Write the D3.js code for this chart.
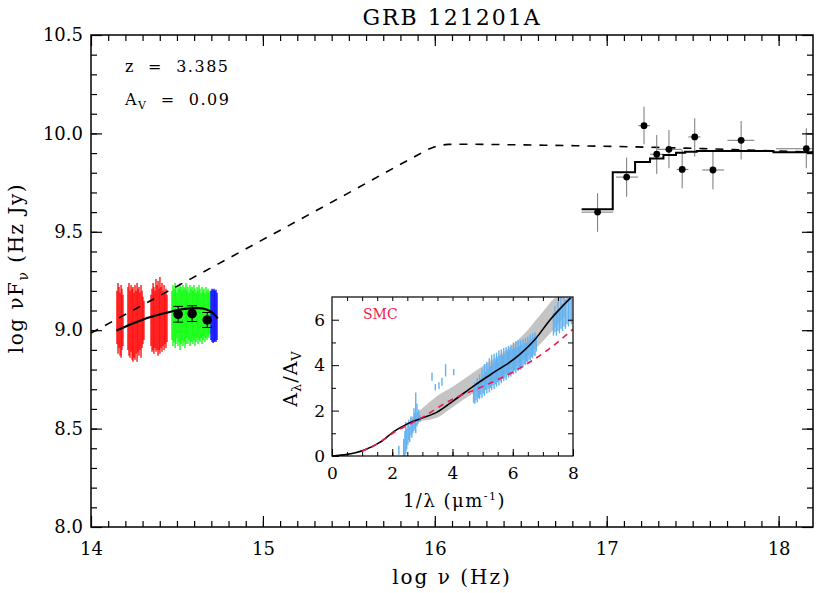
<!DOCTYPE html>
<html lang="en">

<head>
    <meta charset="UTF-8">
    <meta name="viewport" content="width=device-width, initial-scale=1.0">
    <script src="https://d3js.org/d3.v7.min.js"></script>
    <style>
        body { margin: 0; background: #fff; }
        text { font-family: "DejaVu Serif", serif; fill: #000; }
    </style>
</head>

<body>
    <div class="sed"></div>
    <script>
        // ---------- data ----------
        // optical spectrum columns: [log nu, low, high]
        var specRed = [
            [14.151, 8.93, 9.20], [14.157, 8.88, 9.24], [14.163, 8.91, 9.22], [14.169, 8.87, 9.19],
            [14.175, 8.86, 9.23], [14.180, 8.90, 9.21], [14.186, 8.92, 9.18],
            [14.215, 8.90, 9.22], [14.221, 8.87, 9.24], [14.227, 8.86, 9.20], [14.233, 8.89, 9.23],
            [14.239, 8.85, 9.21], [14.244, 8.84, 9.22], [14.250, 8.86, 9.19], [14.256, 8.85, 9.23],
            [14.262, 8.88, 9.20], [14.268, 8.84, 9.24], [14.273, 8.89, 9.21], [14.279, 8.87, 9.22],
            [14.285, 8.90, 9.19], [14.291, 8.86, 9.23], [14.297, 8.91, 9.20], [14.302, 8.93, 9.17],
            [14.308, 8.95, 9.15],
            [14.349, 8.92, 9.18], [14.355, 8.89, 9.21], [14.361, 8.90, 9.24], [14.366, 8.88, 9.22],
            [14.372, 8.91, 9.20], [14.378, 8.89, 9.26], [14.384, 8.90, 9.23], [14.390, 8.87, 9.25],
            [14.396, 8.90, 9.21], [14.401, 8.88, 9.27], [14.407, 8.91, 9.22], [14.413, 8.89, 9.24],
            [14.419, 8.92, 9.20], [14.425, 8.90, 9.23], [14.430, 8.93, 9.19], [14.436, 8.91, 9.21],
            [14.442, 8.94, 9.18]
        ]
        var specGreen = [
            [14.471, 8.95, 9.20], [14.477, 8.92, 9.23], [14.483, 8.94, 9.21], [14.489, 8.91, 9.24],
            [14.494, 8.93, 9.22], [14.500, 8.96, 9.19], [14.506, 8.92, 9.23], [14.512, 8.94, 9.21],
            [14.518, 8.90, 9.24], [14.524, 8.93, 9.22], [14.529, 8.95, 9.20], [14.535, 8.92, 9.23],
            [14.541, 8.94, 9.21], [14.547, 8.91, 9.22], [14.553, 8.93, 9.24], [14.558, 8.96, 9.20],
            [14.564, 8.93, 9.22], [14.570, 8.95, 9.19], [14.576, 8.92, 9.23], [14.582, 8.94, 9.21],
            [14.588, 8.96, 9.22], [14.593, 8.93, 9.20], [14.599, 8.95, 9.23], [14.605, 8.92, 9.21],
            [14.611, 8.94, 9.19], [14.617, 8.96, 9.22], [14.622, 8.93, 9.20], [14.628, 8.95, 9.23],
            [14.634, 8.94, 9.21], [14.640, 8.96, 9.19], [14.646, 8.93, 9.22], [14.652, 8.95, 9.20],
            [14.657, 8.97, 9.21], [14.663, 8.94, 9.19], [14.669, 8.96, 9.22], [14.675, 8.95, 9.20],
            [14.681, 8.97, 9.21], [14.686, 8.96, 9.19], [14.692, 8.98, 9.20]
        ]
        var specBlue = [
            [14.698, 8.95, 9.20], [14.704, 8.94, 9.21], [14.710, 8.935, 9.205], [14.716, 8.94, 9.21],
            [14.721, 8.945, 9.20], [14.727, 8.94, 9.205], [14.733, 8.95, 9.19]
        ]

        // optical photometry
        var optNu = [14.507, 14.588, 14.676]
        var optFlux = [9.081, 9.084, 9.052]
        var optErr = [0.04, 0.04, 0.038]

        // X-ray points
        var xrNu = [16.947, 17.116, 17.217, 17.291, 17.362, 17.439, 17.512, 17.618, 17.782, 18.161]
        var xrNuLo = [16.854, 17.054, 17.183, 17.252, 17.296, 17.407, 17.475, 17.556, 17.702, 17.985]
        var xrNuHi = [17.038, 17.183, 17.252, 17.329, 17.437, 17.475, 17.546, 17.683, 17.859, 18.25]
        var xrFlux = [9.60, 9.778, 10.039, 9.894, 9.919, 9.817, 9.982, 9.814, 9.965, 9.922]
        var xrFluxLo = [9.50, 9.678, 9.945, 9.794, 9.823, 9.721, 9.882, 9.716, 9.868, 9.823]
        var xrFluxHi = [9.696, 9.877, 10.136, 9.992, 10.017, 9.916, 10.077, 9.916, 10.063, 10.026]

        // folded X-ray model (histogram)
        var stepNu = [16.854, 17.035, 17.165, 17.252, 17.330, 17.403, 17.456, 17.524, 17.970, 18.2]
        var stepFlux = [9.614, 9.802, 9.855, 9.873, 9.890, 9.902, 9.907, 9.911, 9.904, 9.904]

        // unabsorbed broken power law (dashed)
        var dashNu = [14.0, 14.494, 14.989, 15.483, 15.879, 15.978, 16.027, 16.077, 16.176, 16.472, 16.967, 17.461, 17.956, 18.2]
        var dashFlux = [8.985, 9.22, 9.455, 9.69, 9.88, 9.925, 9.938, 9.944, 9.945, 9.942, 9.935, 9.925, 9.912, 9.905]

        // absorbed model in the optical (solid)
        var modelNu = [14.148, 14.247, 14.346, 14.445, 14.544, 14.623, 14.672, 14.712, 14.737]
        var modelFlux = [8.998, 9.035, 9.067, 9.09, 9.108, 9.112, 9.105, 9.085, 9.06]

        var xTicks = [14, 15, 16, 17, 18]
        var yTicks = [8.0, 8.5, 9.0, 9.5, 10.0, 10.5]

        // inset: extinction curve
        var extX = [0.0, 0.5, 1.05, 1.6, 2.1, 2.44, 2.93, 3.49, 4.04, 4.71, 5.37, 6.04, 6.7, 7.25, 7.92]
        var extY = [0.0, 0.07, 0.25, 0.61, 1.12, 1.37, 1.64, 1.93, 2.44, 3.09, 3.68, 4.26, 5.07, 6.01, 6.96]
        var smcX = [1.0, 1.27, 1.6, 2.1, 2.6, 3.0, 3.6, 4.0, 4.93, 6.04, 7.14, 8.0]
        var smcY = [0.21, 0.37, 0.61, 1.08, 1.42, 1.7, 2.2, 2.5, 3.02, 3.72, 4.65, 5.58]
        var bandX = [2.6, 3.0, 3.5, 4.0, 4.5, 5.0, 5.5, 6.0, 6.5, 7.0, 7.5, 7.75]
        var bandLo = [1.45, 1.55, 1.7, 2.15, 2.6, 3.0, 3.4, 3.85, 4.4, 5.05, 5.8, 6.2]
        var bandHi = [1.65, 2.1, 2.65, 3.05, 3.5, 3.95, 4.4, 4.9, 5.55, 6.35, 7.0, 7.0]
        // inset spectrum columns: [1/lambda, low, high]
        var extData = [
            [2.22, 0.05, 0.45], [2.38, 0.0, 0.75], [2.42, 0.0, 1.1], [2.45, 0.1, 1.5], [2.48, 0.3, 1.2],
            [2.52, 0.5, 1.45], [2.55, 0.7, 1.6], [2.58, 0.6, 1.3], [2.62, 0.9, 1.75], [2.65, 0.8, 1.5],
            [2.68, 1.0, 1.65], [2.72, 1.1, 2.1], [2.75, 1.2, 1.9], [2.78, 1.0, 2.8], [2.82, 1.3, 2.3],
            [2.85, 1.4, 1.95], [2.88, 1.5, 2.05], [2.92, 1.5, 1.8],
            [3.32, 3.31, 3.68], [3.43, 2.88, 3.17], [3.55, 2.95, 3.25], [3.65, 3.09, 3.45],
            [3.77, 3.5, 4.04], [4.04, 3.55, 3.83],
            [4.70, 2.35, 3.0], [4.74, 2.3, 3.25], [4.78, 2.45, 3.1], [4.82, 2.35, 3.45], [4.86, 2.55, 3.2],
            [4.90, 2.5, 3.6], [4.94, 2.7, 3.4], [4.98, 2.55, 3.85], [5.02, 2.75, 3.55], [5.06, 2.65, 4.05],
            [5.10, 2.9, 3.7], [5.14, 2.75, 4.15], [5.18, 2.95, 3.85], [5.22, 2.8, 4.3], [5.26, 3.0, 3.95],
            [5.30, 2.9, 4.45], [5.34, 3.1, 4.1], [5.38, 2.95, 4.5], [5.42, 3.15, 4.2], [5.46, 3.05, 4.55],
            [5.50, 3.25, 4.3], [5.54, 3.1, 4.65], [5.58, 3.3, 4.4], [5.62, 3.2, 4.7], [5.66, 3.4, 4.45],
            [5.70, 3.3, 4.75], [5.74, 3.45, 4.5], [5.78, 3.35, 4.8], [5.82, 3.55, 4.6], [5.86, 3.45, 4.85],
            [5.90, 3.6, 4.65], [5.94, 3.5, 4.9], [5.98, 3.7, 4.7], [6.02, 3.6, 5.0], [6.06, 3.75, 4.75],
            [6.10, 3.65, 5.05], [6.14, 3.8, 4.8], [6.18, 3.75, 5.1], [6.22, 3.9, 4.85], [6.26, 3.8, 5.1],
            [6.30, 3.95, 4.9], [6.34, 3.9, 5.15], [6.38, 4.05, 4.95], [6.42, 4.0, 5.2], [6.46, 4.15, 5.0],
            [6.50, 4.1, 5.25], [6.54, 4.25, 5.1], [6.58, 4.2, 5.35], [6.62, 4.35, 5.15], [6.66, 4.3, 5.4],
            [6.70, 4.45, 5.25], [6.74, 4.4, 5.45], [6.78, 4.6, 5.3],
            [7.35, 5.3, 6.3], [7.40, 5.45, 6.6], [7.45, 5.3, 6.4], [7.50, 5.5, 6.8], [7.55, 5.4, 6.5],
            [7.60, 5.6, 7.0], [7.65, 5.5, 6.7], [7.70, 5.7, 7.0], [7.75, 5.6, 6.9], [7.80, 5.8, 7.0],
            [7.85, 5.7, 6.95], [7.90, 5.9, 7.0], [7.95, 5.8, 7.0]
        ]
        var insetXTicks = [0, 2, 4, 6, 8]
        var insetYTicks = [0, 2, 4, 6]

        // ---------- layout ----------
        let W = 830, H = 593
        let margin = { top: 35, right: 17, bottom: 66, left: 91 }
        let width = W - margin.left - margin.right
        let height = H - margin.top - margin.bottom

        var root = d3.select(".sed").append("svg")
            .attr("width", W)
            .attr("height", H)
        var svg = root.append("g")
            .attr("transform", "translate(" + margin.left + "," + margin.top + ")")

        root.append("defs").append("clipPath").attr("id", "clipMain")
            .append("rect").attr("width", width).attr("height", height)

        var x = d3.scaleLinear().domain([14, 18.2]).range([0, width])
        var y = d3.scaleLinear().domain([8, 10.5]).range([height, 0])

        var plot = svg.append("g").attr("clip-path", "url(#clipMain)")

        // optical spectrum
        function drawSpec(arr, col) {
            plot.append("g").selectAll("line")
                .data(arr)
                .enter().append("line")
                .attr("x1", d => x(d[0])).attr("x2", d => x(d[0]))
                .attr("y1", d => y(d[1])).attr("y2", d => y(d[2]))
                .attr("stroke", col)
                .attr("stroke-width", 1.3)
        }
        drawSpec(specRed, "#ff0000")
        drawSpec(specGreen, "#00ff00")
        drawSpec(specBlue, "#0000ff")

        // dashed intrinsic model
        var dashLine = d3.line()
            .x((d, i) => x(dashNu[i]))
            .y(d => y(d))
            .curve(d3.curveMonotoneX)
        plot.append("path")
            .attr("d", dashLine(dashFlux))
            .attr("fill", "none")
            .attr("stroke", "#000")
            .attr("stroke-width", 1.6)
            .attr("stroke-dasharray", "8,8")

        // absorbed model, optical
        var modelLine = d3.line()
            .x((d, i) => x(modelNu[i]))
            .y(d => y(d))
            .curve(d3.curveMonotoneX)
        plot.append("path")
            .attr("d", modelLine(modelFlux))
            .attr("fill", "none")
            .attr("stroke", "#000")
            .attr("stroke-width", 2.2)

        // optical photometry with error bars
        var opt = plot.append("g")
        optNu.forEach(function (nu, i) {
            var cx = x(nu)
            opt.append("line")
                .attr("x1", cx).attr("x2", cx)
                .attr("y1", y(optFlux[i] - optErr[i])).attr("y2", y(optFlux[i] + optErr[i]))
                .attr("stroke", "#000").attr("stroke-width", 1)
            ;[optFlux[i] - optErr[i], optFlux[i] + optErr[i]].forEach(function (v) {
                opt.append("line")
                    .attr("x1", cx - 5).attr("x2", cx + 5)
                    .attr("y1", y(v)).attr("y2", y(v))
                    .attr("stroke", "#000").attr("stroke-width", 1)
            })
            opt.append("circle")
                .attr("cx", cx).attr("cy", y(optFlux[i]))
                .attr("r", 4.8).attr("fill", "#000")
        })

        // X-ray error bars
        var xr = plot.append("g")
        xrNu.forEach(function (nu, i) {
            xr.append("line")
                .attr("x1", x(xrNuLo[i])).attr("x2", x(xrNuHi[i]))
                .attr("y1", y(xrFlux[i])).attr("y2", y(xrFlux[i]))
                .attr("stroke", "#777").attr("stroke-width", 1)
            xr.append("line")
                .attr("x1", x(nu)).attr("x2", x(nu))
                .attr("y1", y(xrFluxLo[i])).attr("y2", y(xrFluxHi[i]))
                .attr("stroke", "#777").attr("stroke-width", 1)
        })

        // X-ray folded model histogram
        var stepLine = d3.line()
            .x((d, i) => x(stepNu[i]))
            .y(d => y(d))
            .curve(d3.curveStepAfter)
        plot.append("path")
            .attr("d", stepLine(stepFlux))
            .attr("fill", "none")
            .attr("stroke", "#000")
            .attr("stroke-width", 2)

        // X-ray points on top
        plot.append("g").selectAll("circle")
            .data(xrNu)
            .enter().append("circle")
            .attr("cx", d => x(d))
            .attr("cy", (d, i) => y(xrFlux[i]))
            .attr("r", 3.4)
            .attr("fill", "#000")

        // ---------- axes (IDL style, ticks inside on all sides) ----------
        function styleAxis(g) {
            g.select(".domain").remove()
            g.selectAll(".tick line").attr("stroke", "#000").attr("stroke-width", 1.2)
            g.selectAll("text").attr("font-family", "DejaVu Serif").attr("font-size", 18).attr("fill", "#000")
        }
        var fmt = d3.format(".1f")
        var xMinor = d3.range(141, 182).map(d => d / 10)
        var yMinor = d3.range(81, 105).map(d => d / 10)
        svg.append("g").attr("transform", "translate(0," + height + ")")
            .call(d3.axisBottom(x).tickValues(xTicks).tickSize(-11).tickPadding(15).tickFormat(d3.format("d")))
            .call(styleAxis)
        svg.append("g").attr("transform", "translate(0," + height + ")")
            .call(d3.axisBottom(x).tickValues(xMinor).tickSize(-6).tickFormat(""))
            .call(styleAxis)
        svg.append("g")
            .call(d3.axisTop(x).tickValues(xTicks).tickSize(-11).tickFormat(""))
            .call(styleAxis)
        svg.append("g")
            .call(d3.axisTop(x).tickValues(xMinor).tickSize(-6).tickFormat(""))
            .call(styleAxis)
        svg.append("g")
            .call(d3.axisLeft(y).tickValues(yTicks).tickSize(-11).tickPadding(8).tickFormat(fmt))
            .call(styleAxis)
        svg.append("g")
            .call(d3.axisLeft(y).tickValues(yMinor).tickSize(-6).tickFormat(""))
            .call(styleAxis)
        svg.append("g").attr("transform", "translate(" + width + ",0)")
            .call(d3.axisRight(y).tickValues(yTicks).tickSize(-11).tickFormat(""))
            .call(styleAxis)
        svg.append("g").attr("transform", "translate(" + width + ",0)")
            .call(d3.axisRight(y).tickValues(yMinor).tickSize(-6).tickFormat(""))
            .call(styleAxis)

        svg.append("rect")
            .attr("width", width).attr("height", height)
            .attr("fill", "none").attr("stroke", "#000").attr("stroke-width", 1.5)

        // titles and labels
        root.append("text")
            .attr("x", margin.left + width / 2).attr("y", 25)
            .attr("text-anchor", "middle")
            .attr("font-size", 22).attr("letter-spacing", 2)
            .text("GRB 121201A")

        root.append("text")
            .attr("x", margin.left + width / 2).attr("y", 584)
            .attr("text-anchor", "middle")
            .attr("font-size", 20).attr("letter-spacing", 2)
            .text("log \u03BD (Hz)")

        var yl = root.append("text")
            .attr("transform", "translate(23,268) rotate(-90)")
            .attr("text-anchor", "middle")
            .attr("font-size", 20).attr("letter-spacing", 1.5)
        yl.append("tspan").text("log \u03BDF")
        yl.append("tspan").attr("font-size", 14).attr("dy", 5).text("\u03BD")
        yl.append("tspan").attr("dy", -5).text(" (Hz Jy)")

        svg.append("text")
            .attr("x", 34).attr("y", 37)
            .attr("font-size", 16).attr("letter-spacing", 1.5)
            .style("white-space", "pre")
            .text("z  =  3.385")
        var av = svg.append("text")
            .attr("x", 34).attr("y", 70)
            .attr("font-size", 16).attr("letter-spacing", 1.5)
            .style("white-space", "pre")
        av.append("tspan").text("A")
        av.append("tspan").attr("font-size", 11).attr("dy", 4).text("V")
        av.append("tspan").attr("dy", -4).text("  =  0.09")

        // ---------- inset: extinction curve ----------
        let inset = { left: 332, top: 297, width: 241, height: 159 }
        var ins = root.append("g")
            .attr("transform", "translate(" + inset.left + "," + inset.top + ")")
        root.select("defs").append("clipPath").attr("id", "clipInset")
            .append("rect").attr("width", inset.width).attr("height", inset.height)

        var xi = d3.scaleLinear().domain([0, 8]).range([0, inset.width])
        var yi = d3.scaleLinear().domain([0, 7]).range([inset.height, 0])

        ins.append("rect")
            .attr("width", inset.width).attr("height", inset.height)
            .attr("fill", "#fff")
        var ip = ins.append("g").attr("clip-path", "url(#clipInset)")

        var band = d3.area()
            .x((d, i) => xi(bandX[i]))
            .y0((d, i) => yi(bandLo[i]))
            .y1(d => yi(d))
            .curve(d3.curveMonotoneX)
        ip.append("path")
            .attr("d", band(bandHi))
            .attr("fill", "#c4c4c4")

        ip.append("g").selectAll("line")
            .data(extData)
            .enter().append("line")
            .attr("x1", d => xi(d[0])).attr("x2", d => xi(d[0]))
            .attr("y1", d => yi(d[1])).attr("y2", d => yi(d[2]))
            .attr("stroke", "#62b2f2")
            .attr("stroke-width", 1.4)

        var extLine = d3.line()
            .x((d, i) => xi(extX[i]))
            .y(d => yi(d))
            .curve(d3.curveMonotoneX)
        ip.append("path")
            .attr("d", extLine(extY))
            .attr("fill", "none").attr("stroke", "#000").attr("stroke-width", 1.6)

        var smcLine = d3.line()
            .x((d, i) => xi(smcX[i]))
            .y(d => yi(d))
            .curve(d3.curveMonotoneX)
        ip.append("path")
            .attr("d", smcLine(smcY))
            .attr("fill", "none").attr("stroke", "#ec1c50").attr("stroke-width", 1.6)
            .attr("stroke-dasharray", "6,5")

        ins.append("text")
            .attr("x", 31).attr("y", 22)
            .attr("font-size", 14)
            .style("fill", "#ec1c50")
            .text("SMC")

        function styleInset(g) {
            g.select(".domain").remove()
            g.selectAll(".tick line").attr("stroke", "#000").attr("stroke-width", 1)
            g.selectAll("text").attr("font-family", "DejaVu Serif").attr("font-size", 17).attr("fill", "#000")
        }
        var xiMinor = d3.range(1, 16).map(d => d / 2)
        ins.append("g").attr("transform", "translate(0," + inset.height + ")")
            .call(d3.axisBottom(xi).tickValues(insetXTicks).tickSize(-7).tickPadding(11).tickFormat(d3.format("d")))
            .call(styleInset)
        ins.append("g").attr("transform", "translate(0," + inset.height + ")")
            .call(d3.axisBottom(xi).tickValues(xiMinor).tickSize(-4).tickFormat(""))
            .call(styleInset)
        ins.append("g")
            .call(d3.axisTop(xi).tickValues(xiMinor).tickSize(-4).tickFormat(""))
            .call(styleInset)
        ins.append("g")
            .call(d3.axisLeft(yi).tickValues(insetYTicks).tickSize(-7).tickPadding(7).tickFormat(d3.format("d")))
            .call(styleInset)
        ins.append("g")
            .call(d3.axisLeft(yi).tickValues([1, 3, 5]).tickSize(-4).tickFormat(""))
            .call(styleInset)
        ins.append("g").attr("transform", "translate(" + inset.width + ",0)")
            .call(d3.axisRight(yi).tickValues([1, 2, 3, 4, 5, 6]).tickSize(-5).tickFormat(""))
            .call(styleInset)
        ins.append("rect")
            .attr("width", inset.width).attr("height", inset.height)
            .attr("fill", "none").attr("stroke", "#000").attr("stroke-width", 1.2)

        var ixl = ins.append("text")
            .attr("x", inset.width / 2 + 2).attr("y", 507 - inset.top)
            .attr("text-anchor", "middle")
            .attr("font-size", 18).attr("letter-spacing", 1.5)
        ixl.append("tspan").text("1/\u03BB (\u03BCm")
        ixl.append("tspan").attr("font-size", 11).attr("dy", -7).text("-1")
        ixl.append("tspan").attr("dy", 7).text(")")

        var iyl = ins.append("text")
            .attr("transform", "translate(-35," + (inset.height / 2 + 2) + ") rotate(-90)")
            .attr("text-anchor", "middle")
            .attr("font-size", 19).attr("letter-spacing", 1)
        iyl.append("tspan").text("A")
        iyl.append("tspan").attr("font-size", 13).attr("dy", 4).text("\u03BB")
        iyl.append("tspan").attr("dy", -4).text("/A")
        iyl.append("tspan").attr("font-size", 13).attr("dy", 4).text("V")
    </script>
</body>

</html>
